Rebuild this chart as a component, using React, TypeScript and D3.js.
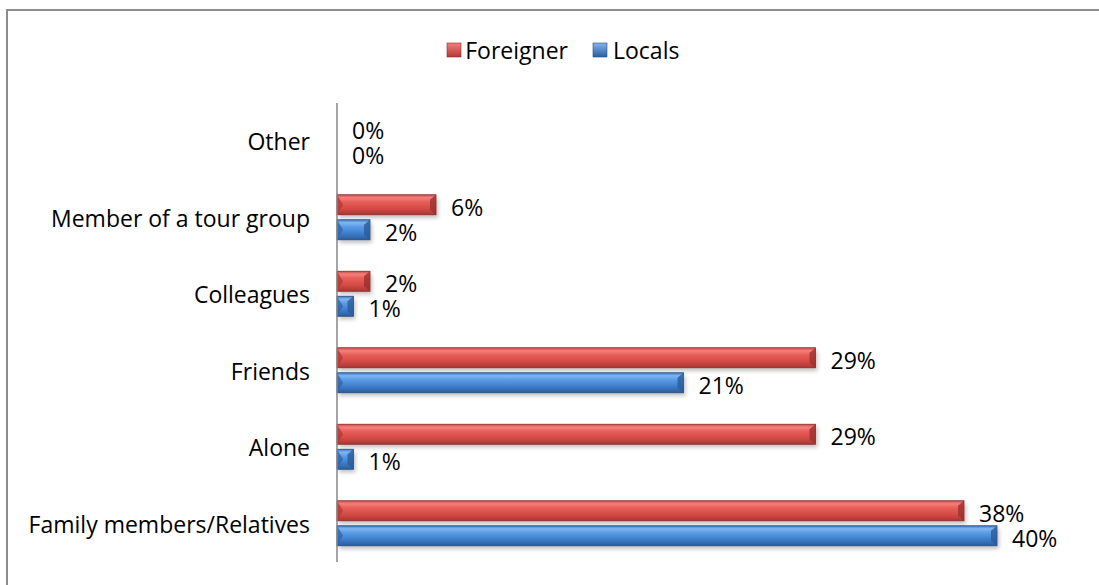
import React from "react";
import * as d3 from "d3";

const categories = ["Other", "Member of a tour group", "Colleagues", "Friends", "Alone", "Family members/Relatives"];
const foreigner = [0, 6, 2, 29, 29, 38];
const locals = [0, 2, 1, 21, 1, 40];
const seriesNames = ["Foreigner", "Locals"];

const W = 1099, H = 585;
const FONT = "'Open Sans', Lato, sans-serif";
const FS = 23;

export default function App() {
  const x = d3.scaleLinear().domain([0, 40]).range([337, 997]);
  const y = d3.scaleBand().domain(categories).range([103, 562]);
  const bw = y.bandwidth();
  const barH = 20;

  const bar = (v: number, cy: number, kind: "r" | "b", key: string) => {
    const x0 = x(0), x1 = x(v);
    const w = x1 - x0;
    if (w <= 0) return null;
    const ch = Math.min(6, w / 2);
    return (
      <g key={key}>
        <rect x={x0 + 2} y={cy + 3} width={w} height={barH} fill="#000" opacity={0.25} filter="url(#blur)" />
        <rect x={x0} y={cy} width={w} height={barH} fill={`url(#g${kind})`} stroke={kind === "r" ? "#8a2a28" : "#2a4d7a"} strokeWidth={0.8} />
        <polygon points={`${x0},${cy} ${x0 + ch},${cy + barH / 2} ${x0},${cy + barH}`} fill={kind === "r" ? "#b23a37" : "#2f66a8"} opacity={0.8} />
        <polygon points={`${x1},${cy} ${x1 - ch},${cy + 5} ${x1 - ch},${cy + barH - 5} ${x1},${cy + barH}`} fill={kind === "r" ? "#9c2f2c" : "#2a5b98"} opacity={0.8} />
      </g>
    );
  };

  const legendPos = [
    { sq: 447, tx: 568, anchor: "end" },
    { sq: 593, tx: 613, anchor: "start" },
  ];

  return (
    <svg width={W} height={H} style={{ position: "absolute", left: 0, top: 0 }} fontFamily={FONT}>
      <defs>
        <linearGradient id="gr" x1="0" y1="0" x2="0" y2="1">
          <stop offset="0" stopColor="#c9504c" />
          <stop offset="0.15" stopColor="#f47f7b" />
          <stop offset="0.35" stopColor="#e85f5a" />
          <stop offset="0.7" stopColor="#d34a45" />
          <stop offset="1" stopColor="#a83632" />
        </linearGradient>
        <linearGradient id="gb" x1="0" y1="0" x2="0" y2="1">
          <stop offset="0" stopColor="#3e78c2" />
          <stop offset="0.15" stopColor="#7fb6f2" />
          <stop offset="0.35" stopColor="#5b9be6" />
          <stop offset="0.7" stopColor="#3d7cc9" />
          <stop offset="1" stopColor="#2b5c9c" />
        </linearGradient>
        <filter id="blur" x="-10%" y="-50%" width="120%" height="200%">
          <feGaussianBlur stdDeviation="2" />
        </filter>
        <linearGradient id="lr" x1="0" y1="0" x2="0" y2="1">
          <stop offset="0" stopColor="#f47f7b" />
          <stop offset="1" stopColor="#b23a37" />
        </linearGradient>
        <linearGradient id="lb" x1="0" y1="0" x2="0" y2="1">
          <stop offset="0" stopColor="#7fb6f2" />
          <stop offset="1" stopColor="#2b5c9c" />
        </linearGradient>
      </defs>
      <rect x={0} y={0} width={W} height={H} fill="#fff" />
      <rect x={7} y={10} width={W + 20} height={H + 20} fill="none" stroke="#8c8c8c" strokeWidth={2} />

      {seriesNames.map((s, i) => {
        const p = legendPos[i];
        return (
          <g key={s}>
            <rect x={p.sq} y={43} width={14} height={14} fill={i === 0 ? "url(#lr)" : "url(#lb)"} stroke={i === 0 ? "#8a2a28" : "#2a4d7a"} strokeWidth={0.6} />
            <text x={p.tx} y={50} textAnchor={p.anchor} dominantBaseline="central" fontSize={FS} fill="#000">{s}</text>
          </g>
        );
      })}

      {categories.map((c, i) => {
        const cy = (y(c) as number) + bw / 2;
        return (
          <g key={c}>
            {bar(foreigner[i], cy - 23, "r", c + "f")}
            {bar(locals[i], cy + 2, "b", c + "l")}
            <text x={x(foreigner[i]) + 15} y={cy - 11} dominantBaseline="central" fontSize={FS} fill="#000">{foreigner[i]}%</text>
            <text x={x(locals[i]) + 15} y={cy + 14} dominantBaseline="central" fontSize={FS} fill="#000">{locals[i]}%</text>
            <text x={310} y={cy} textAnchor="end" dominantBaseline="central" fontSize={FS} fill="#000">{c}</text>
          </g>
        );
      })}

      <line x1={337} x2={337} y1={103} y2={562} stroke="#868686" strokeWidth={1.5} />
    </svg>
  );
}
